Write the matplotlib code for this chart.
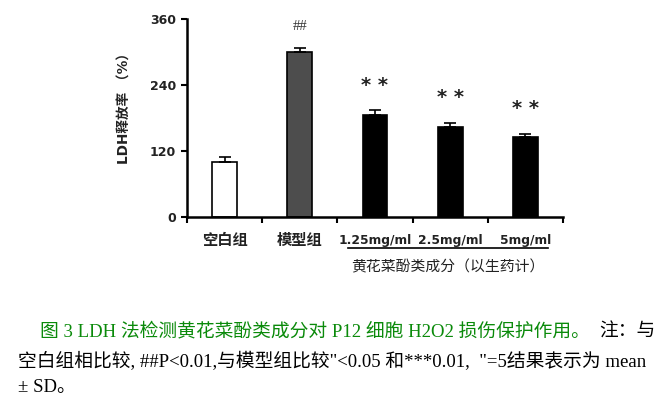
import numpy as np
import matplotlib.pyplot as plt

plt.rcParams['font.family'] = ['DejaVu Sans', 'Noto Sans CJK SC']

groups = ['空白组', '模型组', '1.25mg/ml', '2.5mg/ml', '5mg/ml']
ldh = [100, 300, 185, 163, 146]
sd = [9, 7, 9, 8, 5]
marks = ['', '##', '**', '**', '**']
colors = ['white', '#4d4d4d', 'black', 'black', 'black']

fig = plt.figure(figsize=(6.64, 3.99), dpi=100)
ax = fig.add_axes([0.2816, 0.456, 0.5663, 0.4962])

x = np.arange(len(groups))
ax.bar(x, ldh, width=0.33, color=colors, edgecolor='black', linewidth=1.2,
       yerr=[np.zeros(len(sd)), sd], capsize=4,
       error_kw=dict(ecolor='black', elinewidth=1.2, capthick=1.2))

for xi, v, s, m in zip(x, ldh, sd, marks):
    if m == '##':
        ax.text(xi, 347, m, ha='center', va='center', fontsize=10.5,
                family='Liberation Serif', color='#333333')
    elif m:
        ax.text(xi, v + s + 46, '* *', ha='center', va='center', fontsize=14,
                fontweight='bold', color='#222222')

ax.set_xlim(-0.5, 4.5)
ax.set_ylim(0, 360)
ax.set_yticks([0, 120, 240, 360])
ax.set_yticklabels(['0', '120', '240', '360'], fontweight='bold', fontsize=9,
                   color='#222222')
ax.set_xticks(np.arange(-0.5, 5, 1))
ax.set_xticklabels([])
ax.tick_params(axis='y', direction='out', length=4, width=1.5, pad=4)
ax.tick_params(axis='x', direction='out', length=4, width=1.5)
for sp in ['top', 'right']:
    ax.spines[sp].set_visible(False)
for sp in ['left', 'bottom']:
    ax.spines[sp].set_linewidth(1.8)

for xi, g in zip(x, groups):
    ax.text(xi, -42, g, ha='center', va='center',
            fontsize=11 if xi < 2 else 8.8,
            fontweight='bold', color='#222222',
            family=['DejaVu Sans', 'Noto Sans CJK SC'] if xi >= 2 else 'Noto Sans CJK SC')

ax.text(-0.165, 0.565, 'LDH释放率 （%）', transform=ax.transAxes, rotation=90,
        ha='center', va='center', fontsize=9.8, fontweight='bold', color='#222222',
        family=['DejaVu Sans', 'Noto Sans CJK SC'])

ax.plot([1.64, 4.3], [-56, -56], color='black', lw=1.2, clip_on=False)
ax.text(2.97, -91, '黄花菜酚类成分（以生药计）', ha='center', va='center', fontsize=10.7,
        family='Noto Sans CJK SC', color='#222222')

cap_font = ['Liberation Serif', 'Noto Sans CJK SC']
fs = 13.5
fig.text(0.06, 0.168, '图 3 LDH 法检测黄花菜酚类成分对 P12 细胞 H2O2 损伤保护作用。',
         color='#0a8a0a', fontsize=fs, family=cap_font, va='center')
fig.text(0.987, 0.168, '注：与', color='black', fontsize=fs, family=cap_font,
         va='center', ha='right')
fig.text(0.027, 0.093, '空白组相比较, ##P<0.01,与模型组比较"<0.05 和***0.01,  "=5结果表示为 mean',
         color='black', fontsize=fs, family=cap_font, va='center')
fig.text(0.027, 0.028, '± SD。', color='black', fontsize=fs, family=cap_font, va='center')

fig.savefig('out.png', dpi=100)
